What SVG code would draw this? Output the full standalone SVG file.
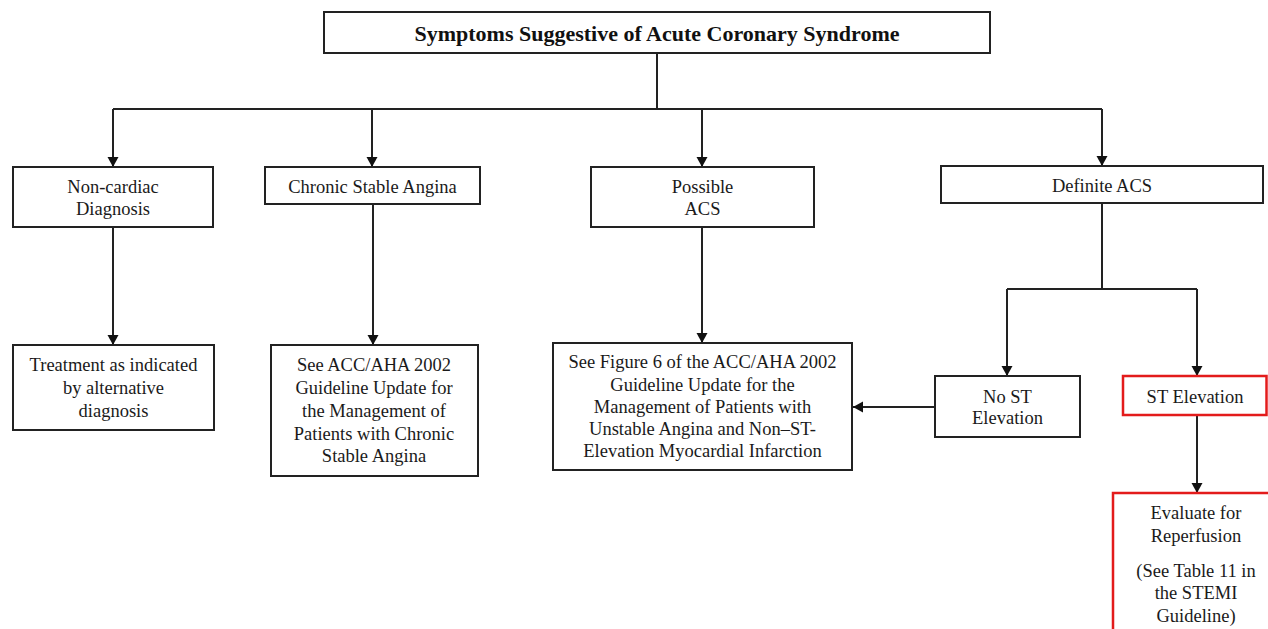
<svg xmlns="http://www.w3.org/2000/svg" width="1268" height="629" viewBox="0 0 1268 629">
<style>
.box{fill:#fff;stroke:#222;stroke-width:2}
.red{fill:#fff;stroke:#e31b1b;stroke-width:2.5}
.t{font-family:"Liberation Serif","Times New Roman",serif;font-size:18.5px;fill:#1a1a1a;text-anchor:middle}
.title{font-family:"Liberation Serif","Times New Roman",serif;font-size:22px;font-weight:bold;fill:#111;text-anchor:middle}
.c{fill:none;stroke:#222;stroke-width:2}
</style>
<defs>
<marker id="ah" markerUnits="userSpaceOnUse" markerWidth="12" markerHeight="12" refX="10" refY="5.5" orient="auto">
<path d="M0,0 L10,5.5 L0,11 z" fill="#111"/>
</marker>
</defs>
<rect width="1268" height="629" fill="#fff"/>
<g id="connectors">
<path class="c" d="M657,53 V109"/>
<path class="c" d="M113,109 H1102"/>
<path class="c" d="M113,109 V167" marker-end="url(#ah)"/>
<path class="c" d="M372,109 V167" marker-end="url(#ah)"/>
<path class="c" d="M702,109 V167" marker-end="url(#ah)"/>
<path class="c" d="M1102,109 V166" marker-end="url(#ah)"/>
<path class="c" d="M113,227 V345" marker-end="url(#ah)"/>
<path class="c" d="M373,204 V345" marker-end="url(#ah)"/>
<path class="c" d="M702,227 V343" marker-end="url(#ah)"/>
<path class="c" d="M1102,203 V289"/>
<path class="c" d="M1007,289 H1197"/>
<path class="c" d="M1007,289 V376" marker-end="url(#ah)"/>
<path class="c" d="M1197,289 V376" marker-end="url(#ah)"/>
<path class="c" d="M1197,415 V493" marker-end="url(#ah)"/>
<path class="c" d="M935,407 H853" marker-end="url(#ah)"/>
</g>
<g id="n-top">
<rect class="box" x="324" y="12" width="666" height="41"/>
<text class="title" x="657" y="41">Symptoms Suggestive of Acute Coronary Syndrome</text>
</g>
<g id="n-noncardiac">
<rect class="box" x="13" y="167" width="200" height="60"/>
<text class="t" x="113" y="193">Non-cardiac</text>
<text class="t" x="113" y="215">Diagnosis</text>
</g>
<g id="n-chronic">
<rect class="box" x="265" y="167" width="215" height="37"/>
<text class="t" x="372.5" y="193">Chronic Stable Angina</text>
</g>
<g id="n-possible">
<rect class="box" x="591" y="167" width="223" height="60"/>
<text class="t" x="702.5" y="193">Possible</text>
<text class="t" x="702.5" y="215">ACS</text>
</g>
<g id="n-definite">
<rect class="box" x="941" y="166" width="322" height="37"/>
<text class="t" x="1102" y="192">Definite ACS</text>
</g>
<g id="n-treatment">
<rect class="box" x="13" y="345" width="201" height="85"/>
<text class="t" x="113.5" y="371">Treatment as indicated</text>
<text class="t" x="113.5" y="394">by alternative</text>
<text class="t" x="113.5" y="416.5">diagnosis</text>
</g>
<g id="n-chronic-ref">
<rect class="box" x="271" y="345" width="207" height="131"/>
<text class="t" x="374" y="371">See ACC/AHA 2002</text>
<text class="t" x="374" y="394">Guideline Update for</text>
<text class="t" x="374" y="416.5">the Management of</text>
<text class="t" x="374" y="439.5">Patients with Chronic</text>
<text class="t" x="374" y="462">Stable Angina</text>
</g>
<g id="n-possible-ref">
<rect class="box" x="553" y="343" width="299" height="127"/>
<text class="t" x="702.5" y="368">See Figure 6 of the ACC/AHA 2002</text>
<text class="t" x="702.5" y="391">Guideline Update for the</text>
<text class="t" x="702.5" y="413">Management of Patients with</text>
<text class="t" x="702.5" y="435">Unstable Angina and Non–ST-</text>
<text class="t" x="702.5" y="457">Elevation Myocardial Infarction</text>
</g>
<g id="n-nost">
<rect class="box" x="935" y="376" width="145" height="61"/>
<text class="t" x="1007.5" y="403">No ST</text>
<text class="t" x="1007.5" y="424">Elevation</text>
</g>
<g id="n-st">
<rect class="red" x="1123" y="376" width="143.5" height="39"/>
<text class="t" x="1195" y="403">ST Elevation</text>
</g>
<g id="n-evaluate">
<rect class="red" x="1113" y="493" width="175" height="160"/>
<text class="t" x="1196" y="519">Evaluate for</text>
<text class="t" x="1196" y="542">Reperfusion</text>
<text class="t" x="1196" y="577">(See Table 11 in</text>
<text class="t" x="1196" y="599">the STEMI</text>
<text class="t" x="1196" y="622">Guideline)</text>
</g>
</svg>
